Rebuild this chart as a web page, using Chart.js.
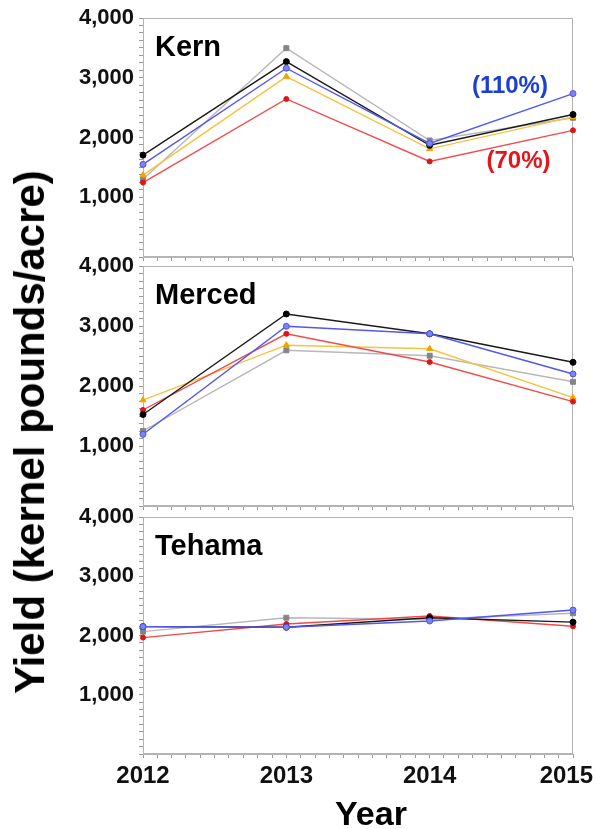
<!DOCTYPE html>
<html>
<head>
<meta charset="utf-8">
<script src="https://cdn.jsdelivr.net/npm/chart.js@4"></script>
<style>
  body { margin: 0; background: #fff; overflow: hidden; width: 597px; height: 829px; position: relative; font-family: "Liberation Sans", Arial, sans-serif; }
  canvas { position: absolute; left: 0; }
  #c1 { top: 0; }
  #c2 { top: 248px; }
  #c3 { top: 499px; }
  #ytitle { position: absolute; left: 30px; top: 432px; transform: translate(-50%, -50%) rotate(-90deg); font-weight: bold; font-size: 42px; white-space: nowrap; line-height: 1; }
  #xtitle { position: absolute; left: 371px; top: 796px; transform: translateX(-50%); font-weight: bold; font-size: 34px; line-height: 1; }
</style>
</head>
<body>
<canvas id="c1" width="597" height="262"></canvas>
<canvas id="c2" width="597" height="263"></canvas>
<canvas id="c3" width="597" height="301"></canvas>
<div id="ytitle">Yield (kernel pounds/acre)</div>
<div id="xtitle">Year</div>
<script>
// data (kernel pounds/acre)
const years = [2012, 2013, 2014, 2015];
const yTicks = [1000, 2000, 3000, 4000];

const kernBlue   = [1550, 3160, 1900, 2735];
const kernBlack  = [1705, 3270, 1870, 2385];
const kernRed    = [1245, 2645, 1600, 2120];
const kernOrange = [1370, 3020, 1810, 2345];
const kernGray   = [1300, 3495, 1950, 2330];

const mercedBlue   = [1195, 2995, 2870, 2200];
const mercedBlack  = [1525, 3200, 2870, 2395];
const mercedRed    = [1600, 2870, 2400, 1740];
const mercedOrange = [1765, 2680, 2620, 1805];
const mercedGray   = [1250, 2595, 2505, 2070];

const tehamaBlue  = [2150, 2140, 2245, 2430];
const tehamaBlack = [2150, 2140, 2300, 2225];
const tehamaRed   = [1965, 2195, 2330, 2155];
const tehamaGray  = [2065, 2300, 2275, 2375];

// first entry is drawn on top
const styles = {
  blue:   { line: '#5058ee', fill: '#7c84f4', edge: '#4a52e8', shape: 'circle',   r: 3 },
  black:  { line: '#1a1a1a', fill: '#000000', edge: '#000000', shape: 'circle',   r: 3 },
  red:    { line: '#f04a4a', fill: '#e01414', edge: '#e01414', shape: 'circle',   r: 2.5 },
  orange: { line: '#f4c340', fill: '#f0a400', edge: '#f0a400', shape: 'triangle', r: 3.5 },
  gray:   { line: '#b8b8b8', fill: '#858585', edge: '#858585', shape: 'rect',     r: 3.5 }
};

const font = (size) => ({ family: '"Liberation Sans", Arial, sans-serif', size: size, weight: 'bold' });

// panel frame, site name and notes
const panelDecor = {
  id: 'panelDecor',
  beforeDatasetsDraw(chart, args, opts) {
    const { ctx, chartArea: a } = chart;
    ctx.save();
    ctx.strokeStyle = '#b4b4b4';
    ctx.lineWidth = 1;
    ctx.strokeRect(a.left + 0.5, a.top + 0.5, a.right - a.left - 1, a.bottom - a.top - 1);
    ctx.restore();
  },
  afterDatasetsDraw(chart, args, opts) {
    const { ctx, chartArea: a, scales } = chart;
    ctx.save();
    ctx.fillStyle = '#000';
    ctx.font = 'bold 29px "Liberation Sans", Arial, sans-serif';
    ctx.textBaseline = 'alphabetic';
    ctx.fillText(opts.site, a.left + 12, a.top + 38);
    ctx.font = 'bold 24px "Liberation Sans", Arial, sans-serif';
    ctx.textAlign = 'center';
    ctx.textBaseline = 'middle';
    (opts.notes || []).forEach(n => {
      ctx.fillStyle = n.color;
      ctx.fillText(n.text, scales.x.getPixelForValue(n.x), scales.y.getPixelForValue(n.y));
    });
    ctx.restore();
  }
};

function makeDatasets(series) {
  return Object.keys(series).map(key => {
    const s = styles[key];
    return {
      label: key,
      data: years.map((yr, i) => ({ x: yr, y: series[key][i] })),
      borderColor: s.line,
      borderWidth: 1.4,
      pointStyle: s.shape,
      pointRadius: s.r,
      pointBackgroundColor: s.fill,
      pointBorderColor: s.edge,
      pointBorderWidth: 1,
      tension: 0,
      clip: false
    };
  });
}

// last year label sits a little inside the right edge, as in the figure
function yearLabel(v) {
  if (!years.includes(v)) return '';
  return v === years[years.length - 1] ? v + '  ' : String(v);
}

function drawPanel(canvasId, site, series, showYears, notes) {
  new Chart(document.getElementById(canvasId), {
    type: 'line',
    data: { datasets: makeDatasets(series) },
    plugins: [panelDecor],
    options: {
      responsive: false,
      animation: false,
      layout: { padding: { top: 18, right: 24, left: 0, bottom: 0 } },
      plugins: {
        legend: { display: false },
        tooltip: { enabled: false },
        panelDecor: { site: site, notes: notes }
      },
      scales: {
        x: {
          type: 'linear',
          min: years[0],
          max: years[years.length - 1],
          grid: { drawOnChartArea: false, tickLength: 4, color: '#9a9a9a' },
          border: { color: '#b4b4b4' },
          ticks: {
            display: showYears,
            stepSize: 0.1,
            autoSkip: false,
            maxRotation: 0,
            padding: 4,
            color: '#111',
            font: font(24),
            callback: yearLabel
          },
          afterFit: s => {
            s.height = showYears ? 46 : 4;
            s.paddingLeft = 0;
            s.paddingRight = 0;
          }
        },
        y: {
          min: 0,
          max: yTicks[yTicks.length - 1],
          grid: { drawOnChartArea: false, tickLength: 4, color: '#9a9a9a' },
          border: { color: '#b4b4b4' },
          ticks: {
            stepSize: 125,
            autoSkip: false,
            padding: 5,
            color: '#111',
            font: font(22),
            callback: v => yTicks.includes(v) ? v.toLocaleString('en-US') : ''
          },
          afterFit: s => {
            s.width = 143;
            s.paddingTop = 0;
            s.paddingBottom = 0;
          }
        }
      }
    }
  });
}

drawPanel('c1', 'Kern',
  { blue: kernBlue, black: kernBlack, red: kernRed, orange: kernOrange, gray: kernGray },
  false,
  [
    { text: '(110%)', x: 2014.56, y: 2850, color: '#1c3ed2' },
    { text: '(70%)', x: 2014.62, y: 1600, color: '#e8141c' }
  ]);

drawPanel('c2', 'Merced',
  { blue: mercedBlue, black: mercedBlack, red: mercedRed, orange: mercedOrange, gray: mercedGray },
  false, []);

drawPanel('c3', 'Tehama',
  { blue: tehamaBlue, black: tehamaBlack, red: tehamaRed, gray: tehamaGray },
  true, []);
</script>
</body>
</html>
